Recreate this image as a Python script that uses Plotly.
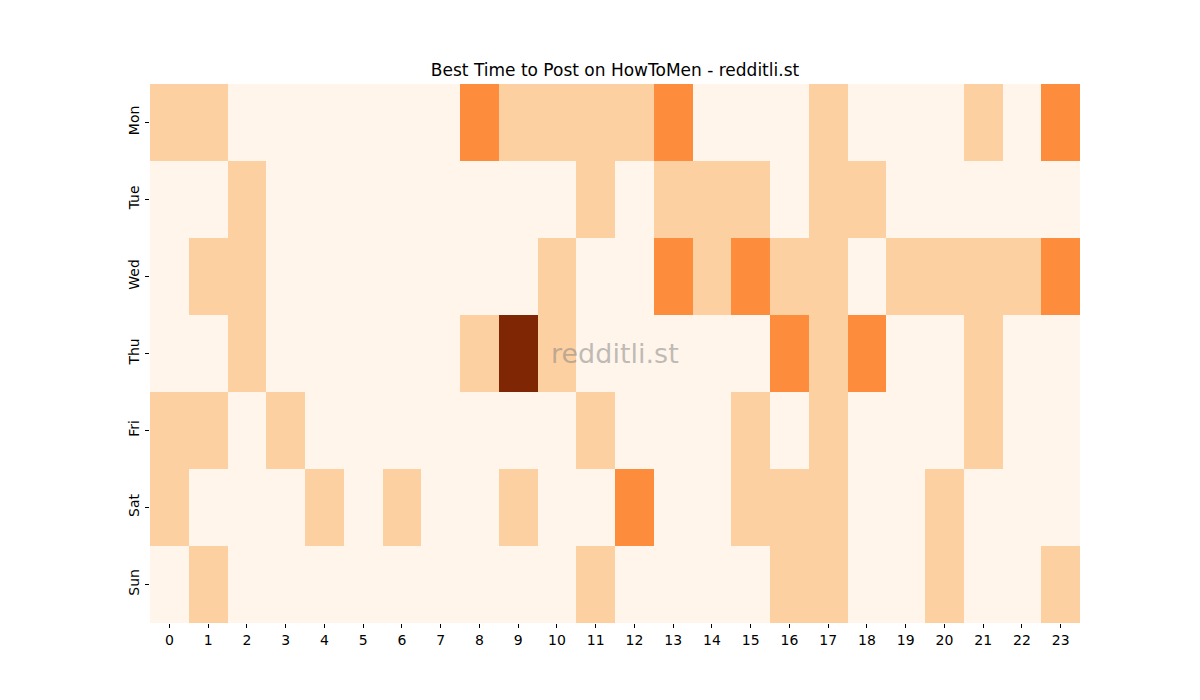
import plotly.graph_objects as go

days = ["Mon", "Tue", "Wed", "Thu", "Fri", "Sat", "Sun"]
hours = [str(h) for h in range(24)]

mon = [1, 1, 0, 0, 0, 0, 0, 0, 2, 1, 1, 1, 1, 2, 0, 0, 0, 1, 0, 0, 0, 1, 0, 2]
tue = [0, 0, 1, 0, 0, 0, 0, 0, 0, 0, 0, 1, 0, 1, 1, 1, 0, 1, 1, 0, 0, 0, 0, 0]
wed = [0, 1, 1, 0, 0, 0, 0, 0, 0, 0, 1, 0, 0, 2, 1, 2, 1, 1, 0, 1, 1, 1, 1, 2]
thu = [0, 0, 1, 0, 0, 0, 0, 0, 1, 3, 1, 0, 0, 0, 0, 0, 2, 1, 2, 0, 0, 1, 0, 0]
fri = [1, 1, 0, 1, 0, 0, 0, 0, 0, 0, 0, 1, 0, 0, 0, 1, 0, 1, 0, 0, 0, 1, 0, 0]
sat = [1, 0, 0, 0, 1, 0, 1, 0, 0, 1, 0, 0, 2, 0, 0, 1, 1, 1, 0, 0, 1, 0, 0, 0]
sun = [0, 1, 0, 0, 0, 0, 0, 0, 0, 0, 0, 1, 0, 0, 0, 0, 1, 1, 0, 0, 1, 0, 0, 1]

z = [mon, tue, wed, thu, fri, sat, sun]

colorscale = [
    [0.0, "#fff5eb"],
    [1 / 3, "#fdd0a2"],
    [2 / 3, "#fd8d3c"],
    [1.0, "#7f2704"],
]

font = "DejaVu Sans, Liberation Sans, sans-serif"

fig = go.Figure(
    go.Heatmap(
        z=z,
        x=hours,
        y=days,
        colorscale=colorscale,
        zmin=0,
        zmax=3,
        showscale=False,
        xgap=0,
        ygap=0,
    )
)

fig.update_layout(
    width=1200,
    height=700,
    margin=dict(l=150, r=120, t=84, b=77),
    paper_bgcolor="white",
    plot_bgcolor="white",
    font=dict(family=font, size=14, color="black"),
    title=dict(
        text="Best Time to Post on HowToMen - redditli.st",
        x=615 / 1200,
        xanchor="center",
        y=1 - 70 / 700,
        yanchor="middle",
        font=dict(size=17, family=font, color="black"),
    ),
    xaxis=dict(
        type="category",
        showgrid=False,
        zeroline=False,
        ticks="outside",
        ticklen=4,
        tickcolor="black",
        tickfont=dict(size=14),
        showline=False,
    ),
    yaxis=dict(
        type="category",
        autorange="reversed",
        showgrid=False,
        zeroline=False,
        ticks="outside",
        ticklen=4,
        tickcolor="black",
        tickangle=-90,
        tickfont=dict(size=14),
        showline=False,
    ),
    annotations=[
        dict(
            text="redditli.st",
            x=0.5,
            y=0.5,
            xref="paper",
            yref="paper",
            showarrow=False,
            font=dict(size=27, family=font, color="rgba(128,128,128,0.5)"),
        )
    ],
)

fig.write_html("out.html")
